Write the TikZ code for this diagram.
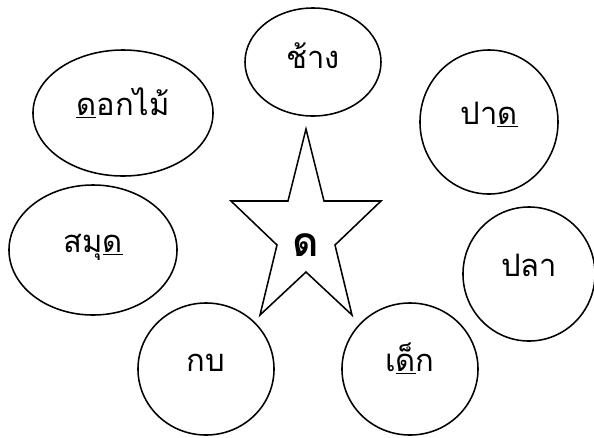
\documentclass[tikz,border=0pt]{standalone}
\usepackage{fontspec}
\newfontfamily\thaifont[Script=Thai]{Loma}
\usetikzlibrary{shapes.geometric}

\begin{document}
\begin{tikzpicture}[
        x=0.025cm, y=-0.025cm,
        bubble/.style={draw, ellipse, line width=1.1pt, inner sep=0pt,
                       text height=0.6em, text depth=0.22em,
                       font=\thaifont\fontsize{22}{26}\selectfont},
        hub/.style={font=\thaifont\bfseries\fontsize{29}{33}\selectfont}
    ]
        \useasboundingbox (0,0) rectangle (594,437);

        \node[bubble, minimum width=3.4cm, minimum height=2.7cm,
              text height=0.9em, text depth=0.04em] (chang) at (313,62) {ช้าง};
        \node[bubble, minimum width=4.5cm, minimum height=3.15cm] (dokmai) at (123,113) {\underline{ด}อกไม้};
        \node[bubble, minimum width=3.45cm, minimum height=3.6cm] (pad) at (489,122) {ปา\underline{ด}};
        \node[bubble, minimum width=4.2cm, minimum height=3.25cm] (samud) at (93,250) {สมุ\underline{ด}};
        \node[bubble, minimum width=3.3cm, minimum height=3.35cm] (pla) at (529,274) {ปลา};
        \node[bubble, minimum width=3.4cm, minimum height=3.3cm] (kob) at (206,369) {กบ};
        \node[bubble, minimum width=3.4cm, minimum height=3.3cm] (dek) at (410,369) {เ\underline{ด็}ก};

        % star in the middle
        \draw[line width=1.1pt, line join=miter] (306,129) -- (324,201) -- (381,201) -- (335,245)
            -- (352,315) -- (306,272) -- (260,315) -- (277,245) -- (231,201) -- (288,201) -- cycle;
        \node[hub] (letter) at (306,245) {ด};
    \end{tikzpicture}
\end{document}
